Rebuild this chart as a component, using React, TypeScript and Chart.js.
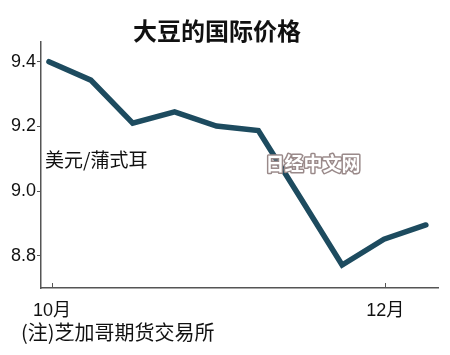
import React, { useEffect, useRef } from "react";
import { Chart, registerables } from "chart.js";

Chart.register(...registerables);

const title = "大豆的国际价格";
const unitLabel = "美元/蒲式耳";
const note = "(注)芝加哥期货交易所";
const watermark = "日经中文网";

// weekly points (index positions)
const pointIndex = [0, 1, 2, 3, 4, 5, 6, 7, 8, 9];
const prices = [9.4, 9.343, 9.21, 9.245, 9.201, 9.187, 8.98, 8.771, 8.851, 8.895];

const yTicks = [8.8, 9.0, 9.2, 9.4];
const xTickPositions = [0.07, 8.03];
const xTickLabels = ["10月", "12月"];

const FONT = "'Liberation Sans', 'Noto Sans CJK SC', sans-serif";
const CJK = "'Noto Sans CJK SC', 'Liberation Sans', sans-serif";

export default function App() {
  const ref = useRef<HTMLCanvasElement | null>(null);

  useEffect(() => {
    if (!ref.current) return;
    const overlay = {
      id: "overlay",
      afterDraw(chart: any) {
        const ctx = chart.ctx;
        const xs = chart.scales.x;
        const area = chart.chartArea;
        ctx.save();
        // inward x ticks
        ctx.strokeStyle = "#555";
        ctx.lineWidth = 1;
        xTickPositions.forEach((v) => {
          const px = Math.round(xs.getPixelForValue(v)) + 0.5;
          ctx.beginPath();
          ctx.moveTo(px, area.bottom - 5);
          ctx.lineTo(px, area.bottom);
          ctx.stroke();
        });
        // title
        ctx.fillStyle = "#111";
        ctx.textAlign = "center";
        ctx.textBaseline = "middle";
        ctx.font = `bold 24px ${CJK}`;
        ctx.fillText(title, 217, 31);
        // unit label
        ctx.textAlign = "left";
        ctx.font = `19px ${CJK}`;
        ctx.fillText(unitLabel, 45, 160);
        // note
        ctx.font = `20px ${CJK}`;
        ctx.fillText(note, 21, 332);
        // watermark
        ctx.textAlign = "center";
        ctx.font = `bold 19px ${CJK}`;
        ctx.lineWidth = 3;
        ctx.lineJoin = "round";
        ctx.strokeStyle = "#9a8a8a";
        ctx.strokeText(watermark, 313, 164);
        ctx.fillStyle = "#ffffff";
        ctx.fillText(watermark, 313, 164);
        ctx.restore();
      },
    };

    const chart = new Chart(ref.current, {
      type: "line",
      data: {
        datasets: [
          {
            data: pointIndex.map((x, i) => ({ x, y: prices[i] })),
            borderColor: "#1d4b5f",
            borderWidth: 5.5,
            pointRadius: 0,
            tension: 0,
            borderJoinStyle: "miter",
            borderCapStyle: "round",
          },
        ],
      },
      options: {
        animation: false,
        responsive: false,
        maintainAspectRatio: false,
        layout: { padding: { top: 42, right: 12, left: 0, bottom: 0 } },
        plugins: { legend: { display: false }, tooltip: { enabled: false }, title: { display: false } },
        scales: {
          x: {
            type: "linear",
            min: -0.19,
            max: 9.29,
            afterBuildTicks: (s: any) => {
              s.ticks = xTickPositions.map((v) => ({ value: v }));
            },
            afterFit: (s: any) => {
              s.height = 67;
            },
            grid: { display: false },
            border: { display: true, color: "#555", width: 1.5 },
            ticks: {
              autoSkip: false,
              maxRotation: 0,
              padding: 4,
              color: "#111",
              font: { family: FONT, size: 18 },
              callback: (v: any) => {
                const i = xTickPositions.indexOf(Number(v));
                return i >= 0 ? xTickLabels[i] : "";
              },
            },
          },
          y: {
            type: "linear",
            min: 8.7,
            max: 9.461,
            afterBuildTicks: (s: any) => {
              s.ticks = yTicks.map((v) => ({ value: v }));
            },
            afterFit: (s: any) => {
              s.width = 41;
            },
            grid: { display: true, drawOnChartArea: false, tickLength: 4, color: "#555" },
            border: { display: true, color: "#555", width: 1.5 },
            ticks: {
              padding: 1,
              color: "#111",
              font: { family: FONT, size: 18 },
              callback: (v: any) => Number(v).toFixed(1),
            },
          },
        },
      },
      plugins: [overlay],
    } as any);
    return () => chart.destroy();
  }, []);

  return (
    <div style={{ position: "absolute", left: 0, top: 0, width: 450, height: 355, background: "#fff" }}>
      <canvas ref={ref} width={450} height={355} style={{ width: 450, height: 355, display: "block" }} />
    </div>
  );
}
